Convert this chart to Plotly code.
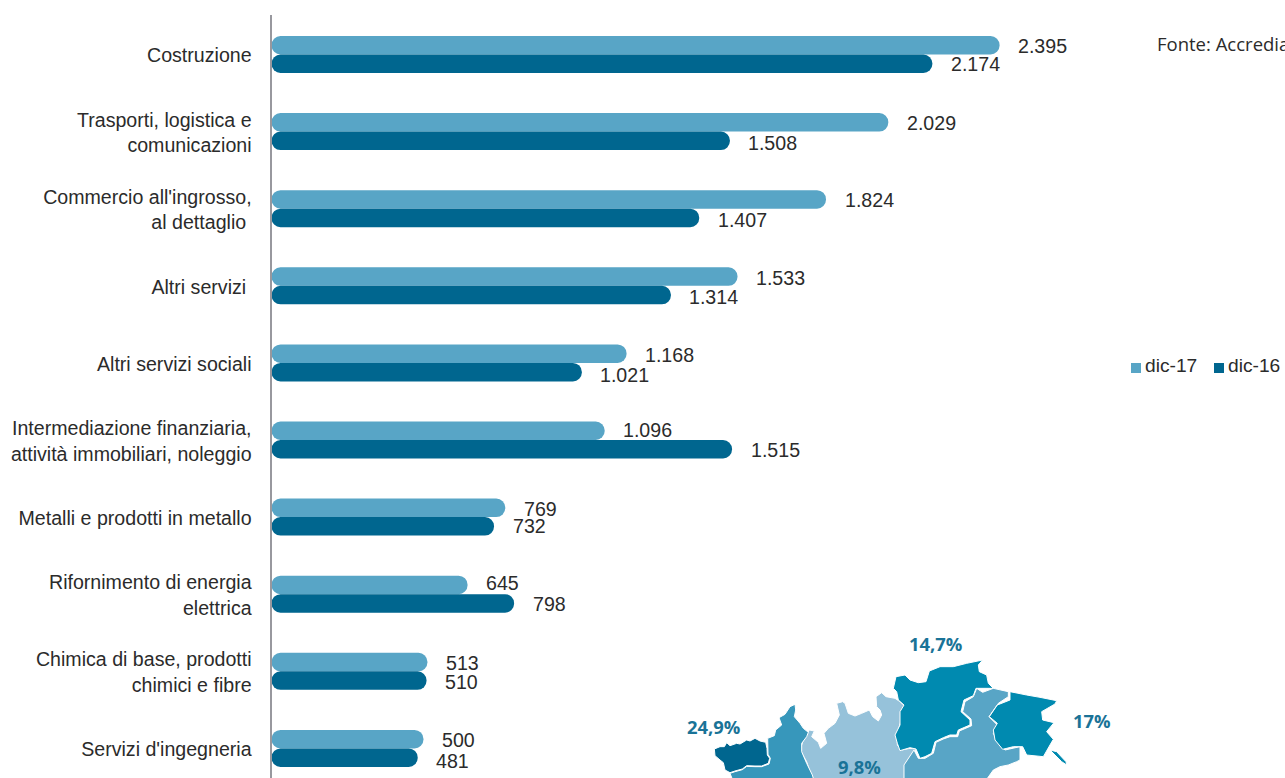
import plotly.graph_objects as go

W, H = 1285, 778

categories = ["Costruzione", "Trasporti, logistica e<br>comunicazioni",
              "Commercio all'ingrosso,<br>al dettaglio\u00a0", "Altri servizi\u00a0",
              "Altri servizi sociali", "Intermediazione finanziaria,<br>attività immobiliari, noleggio",
              "Metalli e prodotti in metallo", "Rifornimento di energia<br>elettrica",
              "Chimica di base, prodotti<br>chimici e fibre", "Servizi d'ingegneria"]
dic_17 = [2395, 2029, 1824, 1533, 1168, 1096, 769, 645, 513, 500]
dic_16 = [2174, 1508, 1407, 1314, 1021, 1515, 732, 798, 510, 481]

C17, C16 = "#58a5c6", "#00668f"
TXT = "#2b2b2b"
FONT = "Liberation Sans, Arial, sans-serif"
LBL = "Open Sans, Noto Sans, sans-serif"
rows = list(range(len(categories)))

# label nudges (px, downward)
nudge_17 = [1, 1, 1, 1, 1, -1, 1, -2, 1, 1]
nudge_16 = [0, 2, 2, 2, 3, 1, 0, 1, 1, 3]

BW = 0.24


def fmt(v):
    return f"{v:,}".replace(",", ".")


fig = go.Figure()
for name, vals, color, off in (("dic-17", dic_17, C17, -BW), ("dic-16", dic_16, C16, 0)):
    # an explicit base makes Plotly round both ends of each bar
    fig.add_trace(go.Bar(name=name, orientation="h", y=rows, x=vals, base=[0] * len(vals),
                         width=BW, offset=off, marker=dict(color=color, line_width=0)))

ann = []
for i in rows:
    for vals, dy, nudge in ((dic_17, -BW / 2, nudge_17), (dic_16, BW / 2, nudge_16)):
        ann.append(dict(x=vals[i], y=i + dy, xref="x", yref="y", text=fmt(vals[i]), showarrow=False,
                        xanchor="left", yanchor="middle", xshift=17.5, yshift=-nudge[i], borderpad=0,
                        font=dict(family=FONT, size=19.6, color=TXT)))


def page(x, y, text, font, size, xanchor="left", color=TXT, bold=False):
    return dict(x=x / W, y=1 - y / H, xref="paper", yref="paper", text=f"<b>{text}</b>" if bold else text,
                showarrow=False, xanchor=xanchor, yanchor="middle", borderpad=0,
                font=dict(family=font, size=size, color=color))


ann += [page(1156, 43, "Fonte: Accredia", LBL, 18.5),
        page(1144, 365.5, "dic-17", FONT, 19.2), page(1227, 365.5, "dic-16", FONT, 19.2),
        page(935, 643, "14,7%", LBL, 18.4, "center", "#1a7397", True),
        page(713, 726, "24,9%", LBL, 18.4, "center", "#1a7397", True),
        page(1092, 720, "17%", LBL, 18.4, "center", "#1a7397", True),
        page(859, 766, "9,8%", LBL, 18.4, "center", "#1a7397", True)]

# Map of the north of Italy: outlines in 3x crop units, each with its crop origin
aosta = ((705, 695), [(28,162),(45,155),(58,155),(65,143),(75,152),(95,145),(105,147),(125,135),(135,138),(150,130),(165,138),(182,142),(186,160),(187,180),(194,190),(190,205),(170,213),(150,213),(125,212),(112,222),(90,228),(75,233),(60,225),(55,203),(45,195),(30,182)])
piemonte = ((705, 695), [(75,235),(90,230),(112,224),(125,214),(150,215),(170,215),(192,207),(196,190),(189,178),(188,130),(208,122),(212,105),(230,90),(222,68),(240,58),(255,35),(270,28),(272,45),(268,65),(285,85),(295,100),(310,112),(305,125),(290,145),(290,170),(305,205),(322,240),(328,260),(85,260)])
lombardia = ((800, 655), [(28,225),(43,228),(35,245),(55,262),(62,280),(80,265),(72,235),(85,220),(105,205),(118,180),(110,145),(128,140),(135,145),(145,175),(165,183),(185,175),(208,165),(218,185),(235,198),(245,180),(240,165),(230,155),(228,125),(245,113),(258,125),(285,130),(300,140),(313,152),(303,175),(302,200),(292,235),(292,270),(305,285),(330,280),(350,282),(335,300),(318,325),(318,380),(40,380),(20,320),(0,285),(10,255)])
trentino = ((890, 655), [(10,100),(18,65),(45,60),(60,75),(85,83),(108,80),(118,48),(150,35),(190,35),(230,25),(278,15),(265,30),(268,50),(290,60),(295,85),(310,100),(258,100),(250,122),(222,135),(213,170),(240,195),(240,210),(205,225),(200,240),(180,240),(160,248),(135,260),(125,295),(105,305),(90,310),(78,282),(60,278),(30,287),(22,265),(15,240),(30,210),(30,170),(42,150),(25,135),(20,110)])
veneto = ((890, 655), [(42,380),(42,330),(72,285),(85,310),(105,310),(130,295),(138,262),(160,252),(180,245),(203,245),(208,228),(245,212),(243,192),(218,170),(225,140),(250,125),(260,100),(278,112),(310,100),(355,110),(355,125),(325,145),(297,185),(322,210),(310,235),(325,265),(345,285),(390,275),(390,315),(380,320),(355,330),(330,335),(310,345),(285,380)])
friuli = ((960, 680), [(150,35),(200,45),(240,52),(290,62),(285,72),(245,95),(248,120),(282,128),(260,155),(280,178),(270,195),(250,230),(200,225),(188,200),(160,200),(128,208),(105,180),(100,150),(112,130),(88,110),(112,75),(150,60)])
trieste = ((960, 680), [(270,210),(290,215),(318,245),(320,255),(305,245),(285,225)])
regions = [(lombardia, "#96c2da"), (piemonte, "#3797bb"), (aosta, "#00668f"), (veneto, C17),
           (trentino, "#008ab0"), (friuli, "#008ab0"), (trieste, "#008ab0")]


def to_path(region):
    (ox, oy), pts = region
    xy = [((ox + a / 3) / W, 1 - (oy + b / 3) / H) for a, b in pts]
    return "M" + "L".join(f"{x:.5f},{y:.5f}" for x, y in xy) + "Z"


shapes = [dict(type="path", xref="paper", yref="paper", path=to_path(p), fillcolor=c,
               line=dict(color="white", width=1.0), layer="below") for p, c in regions]
# legend squares
for x0, c in ((1131, C17), (1214, C16)):
    shapes.append(dict(type="rect", xref="paper", yref="paper", x0=x0 / W, x1=(x0 + 10) / W,
                       y0=1 - 373 / H, y1=1 - 363 / H, fillcolor=c, line_width=0))

fig.update_layout(
    width=W, height=H, barmode="overlay", showlegend=False, barcornerradius=9,
    margin=dict(l=0, r=0, t=0, b=0), paper_bgcolor="white", plot_bgcolor="rgba(0,0,0,0)",
    annotations=ann, shapes=shapes,
    xaxis=dict(domain=[271.5 / W, 1], range=[0, 1013.5 / 0.304], visible=False, fixedrange=True),
    yaxis=dict(domain=[0, 763 / H], range=[(778 - 54.5) / 77.1, (15 - 54.5) / 77.1], tickmode="array",
               tickvals=rows, ticktext=categories, showgrid=False, zeroline=False,
               showline=True, linecolor="#98989e", linewidth=2, ticks="", ticklabelstandoff=14,
               ticklabelshift=-1,
               tickfont=dict(family=FONT, size=19.6, color=TXT), automargin=False, fixedrange=True),
)
fig.write_html("out.html", config={"displayModeBar": False},
               post_script="document.body.style.margin='0';document.body.style.overflow='hidden';")
